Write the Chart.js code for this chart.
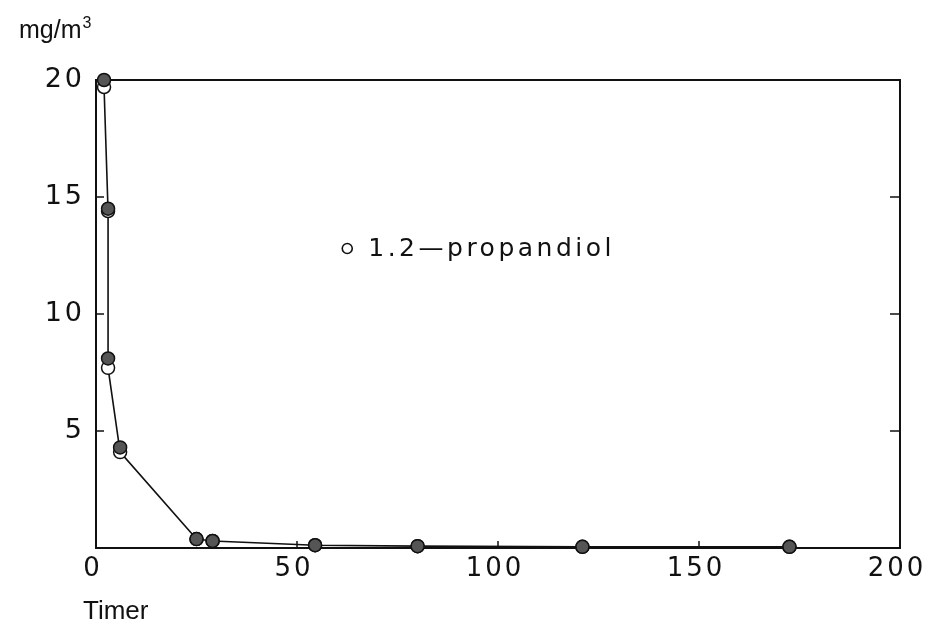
<!DOCTYPE html>
<html>
<head>
<meta charset="utf-8">
<script src="https://cdn.jsdelivr.net/npm/chart.js@4/dist/chart.umd.min.js"></script>
<style>
  html, body { margin: 0; padding: 0; background: #fff; }
  canvas { display: block; }
</style>
</head>
<body>
<canvas id="c" width="930" height="628"></canvas>
<script>
// ---- data ----
const timerValues   = [2, 3, 3, 6, 25, 29, 54.5, 80, 121, 172.5];
const filledValues  = [20, 14.5, 8.1, 4.3, 0.38, 0.3, 0.12, 0.08, 0.05, 0.05];
const openValues    = [19.7, 14.4, 7.7, 4.1, 0.38, 0.3, 0.12, 0.08, 0.05, 0.05];
const xTickValues   = [0, 50, 100, 150, 200];
const yTickValues   = [5, 10, 15, 20];
const legendLabel   = '1.2\u2014propandiol';
const yUnitText     = 'mg/m';
const yUnitSup      = '3';
const xTitleText    = 'Timer';

const toPoints = (xs, ys) => xs.map((x, i) => ({ x: x, y: ys[i] }));

const PLOT_FONT = '"DejaVu Sans", sans-serif';

const framePlugin = {
  id: 'framePlugin',
  beforeLayout(chart) { chart.ctx.letterSpacing = '3px'; },
  beforeDraw(chart) { chart.ctx.letterSpacing = '3px'; },
  beforeDatasetsDraw(chart) {
    const { ctx, chartArea: a, scales } = chart;
    ctx.save();
    ctx.strokeStyle = '#111';
    ctx.lineWidth = 2;
    ctx.strokeRect(a.left, a.top, a.right - a.left, a.bottom - a.top);
    ctx.lineWidth = 1.5;
    yTickValues.forEach(v => {
      if (v >= 20) return;
      const y = scales.y.getPixelForValue(v);
      ctx.beginPath();
      ctx.moveTo(a.left, y); ctx.lineTo(a.left + 8, y);
      ctx.moveTo(a.right, y); ctx.lineTo(a.right - 10, y);
      ctx.stroke();
    });
    xTickValues.forEach(v => {
      if (v <= 0 || v >= 200) return;
      const x = scales.x.getPixelForValue(v);
      ctx.beginPath();
      ctx.moveTo(x, a.bottom); ctx.lineTo(x, a.bottom - 7);
      ctx.stroke();
    });
    ctx.restore();
  },
  afterDraw(chart) {
    const { ctx, scales } = chart;
    ctx.save();
    const lx = scales.x.getPixelForValue(62.5);
    const ly = scales.y.getPixelForValue(12.8);
    ctx.letterSpacing = '0px';
    ctx.beginPath();
    ctx.arc(lx, ly, 5, 0, Math.PI * 2);
    ctx.fillStyle = '#fff';
    ctx.fill();
    ctx.lineWidth = 1.6;
    ctx.strokeStyle = '#111';
    ctx.stroke();
    ctx.letterSpacing = '3.5px';
    ctx.fillStyle = '#111';
    ctx.font = '25px ' + PLOT_FONT;
    ctx.textBaseline = 'middle';
    ctx.textAlign = 'left';
    ctx.fillText(legendLabel, lx + 21, ly + 1);
    ctx.letterSpacing = '0px';
    ctx.font = '25px "Liberation Sans", Arial, sans-serif';
    ctx.textBaseline = 'alphabetic';
    ctx.fillText(yUnitText, 19, 38);
    const w = ctx.measureText(yUnitText).width;
    ctx.font = '16px "Liberation Sans", Arial, sans-serif';
    ctx.fillText(yUnitSup, 19 + w + 1, 28);
    ctx.font = '26px "Liberation Sans", Arial, sans-serif';
    ctx.fillText(xTitleText, 83, 619);
    ctx.restore();
  }
};

new Chart(document.getElementById('c'), {
  type: 'scatter',
  data: {
    datasets: [
      {
        label: 'filled',
        data: toPoints(timerValues, filledValues),
        showLine: false,
        clip: false,
        pointRadius: 6.5,
        pointBackgroundColor: '#555',
        pointBorderColor: '#111',
        pointBorderWidth: 1.5
      },
      {
        label: legendLabel,
        data: toPoints(timerValues, openValues),
        showLine: true,
        clip: false,
        borderColor: '#111',
        borderWidth: 1.6,
        tension: 0,
        pointRadius: 6.5,
        pointBackgroundColor: '#fff',
        pointBorderColor: '#111',
        pointBorderWidth: 1.5
      }
    ]
  },
  options: {
    responsive: false,
    animation: false,
    devicePixelRatio: 1,
    layout: { padding: { top: 80, right: 30, bottom: 0, left: 0 } },
    plugins: {
      legend: { display: false },
      tooltip: { enabled: false },
      title: { display: false }
    },
    scales: {
      x: {
        type: 'linear',
        min: 0, max: 200,
        afterFit(scale) { scale.height = 80; scale.paddingRight = 0; scale.paddingLeft = 0; },
        afterBuildTicks(scale) { scale.ticks = xTickValues.map(v => ({ value: v })); },
        grid: { display: false, drawTicks: false },
        border: { display: false },
        ticks: {
          color: '#111',
          padding: 6,
          labelOffset: -3,
          maxRotation: 0,
          autoSkip: false,
          font: { family: PLOT_FONT, size: 26 }
        }
      },
      y: {
        type: 'linear',
        min: 0, max: 20,
        afterFit(scale) { scale.width = 96; },
        afterBuildTicks(scale) { scale.ticks = yTickValues.map(v => ({ value: v })); },
        grid: { display: false, drawTicks: false },
        border: { display: false },
        ticks: {
          color: '#111',
          padding: 11,
          font: { family: PLOT_FONT, size: 27 }
        }
      }
    }
  },
  plugins: [framePlugin]
});
</script>
</body>
</html>
